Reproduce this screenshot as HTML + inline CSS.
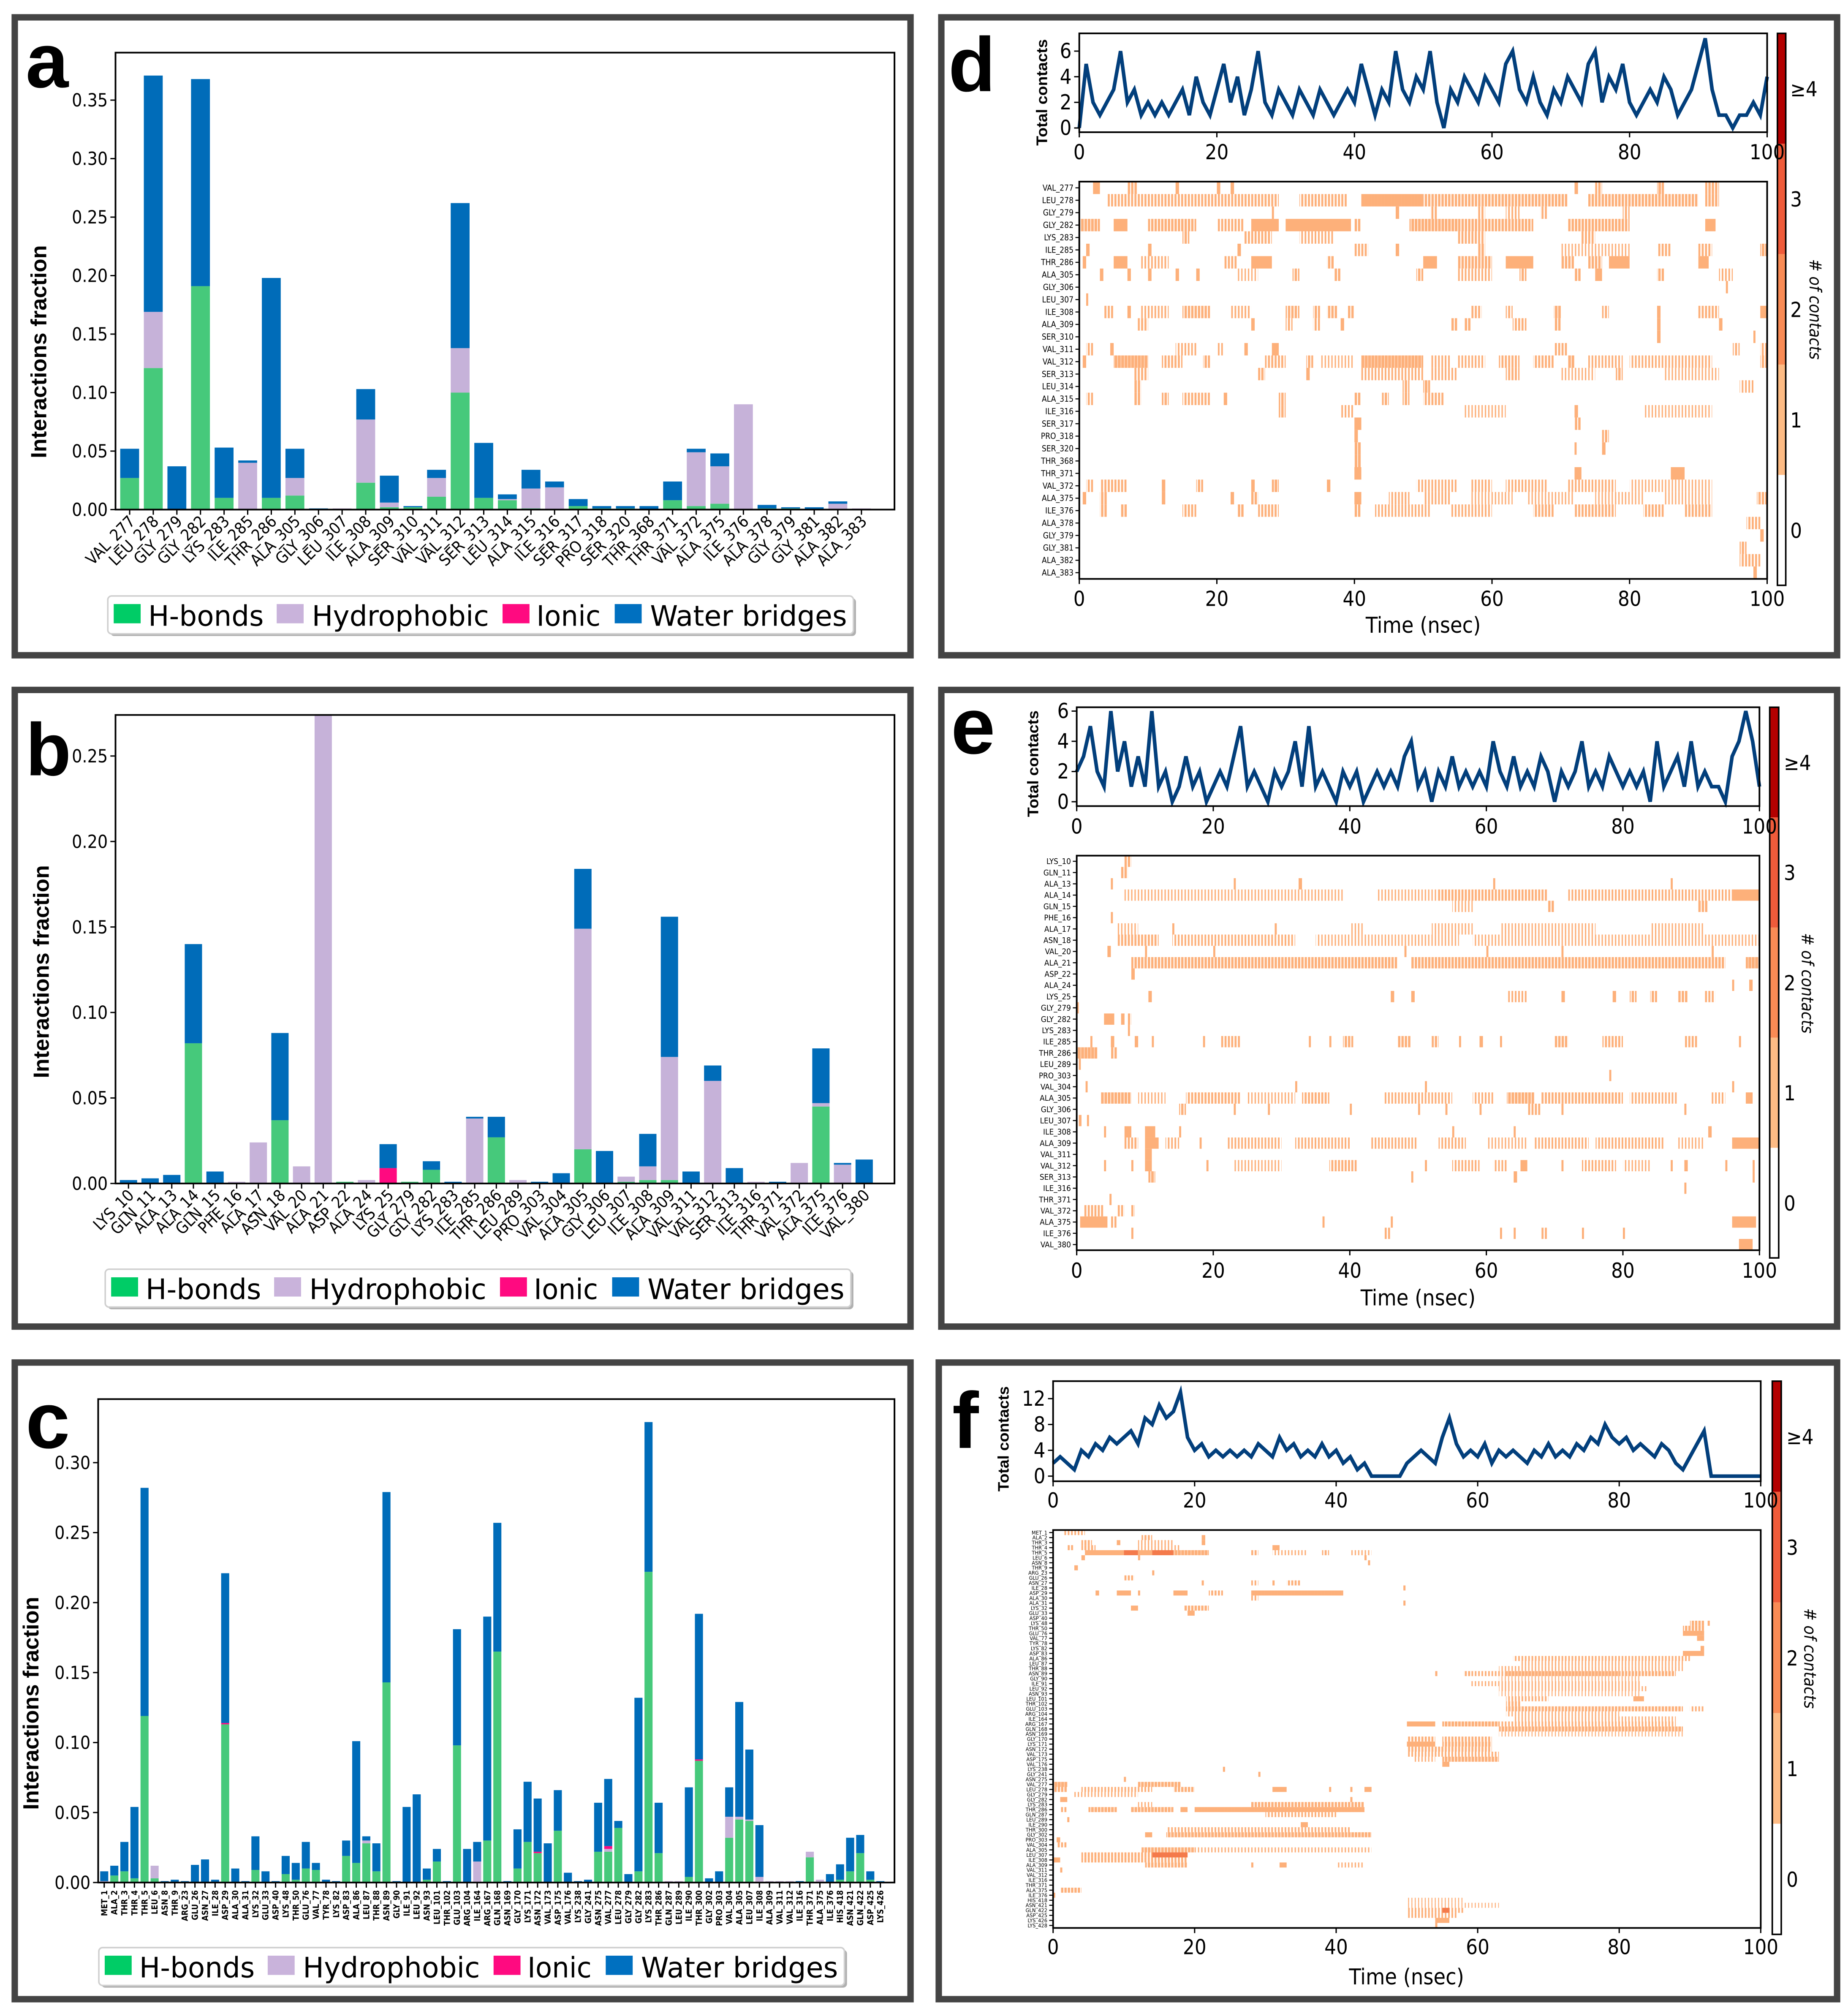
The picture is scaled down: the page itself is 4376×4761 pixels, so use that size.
<!DOCTYPE html>
<html><head><meta charset="utf-8">
<style>
html,body{margin:0;padding:0;background:#fff;}
svg{display:block;}
text{font-family:"DejaVu Sans Condensed","DejaVu Sans","Liberation Sans",sans-serif;fill:#000;}
.bold{font-family:"Liberation Sans",Arial,sans-serif;font-weight:bold;}
</style></head>
<body>
<svg id="fig" xmlns="http://www.w3.org/2000/svg" width="4376" height="4761" viewBox="0 0 1440 1566.7" preserveAspectRatio="none">
<defs id="defs"></defs>
<rect x="0" y="0" width="1440" height="1566.7" fill="#fff"/>
<rect x="11.5" y="13.5" width="698" height="497" fill="none" stroke="#444" stroke-width="5"/>
<rect x="733.5" y="13.5" width="698" height="497" fill="none" stroke="#444" stroke-width="5"/>
<rect x="11.5" y="537.5" width="698" height="496" fill="none" stroke="#444" stroke-width="5"/>
<rect x="733.5" y="537.5" width="698" height="496" fill="none" stroke="#444" stroke-width="5"/>
<rect x="11.5" y="1061.5" width="698" height="496" fill="none" stroke="#444" stroke-width="5"/>
<rect x="731.5" y="1061.5" width="700" height="496" fill="none" stroke="#444" stroke-width="5"/>

<text class="bold" x="20" y="68" font-size="60" font-weight="900">a</text>
<text class="bold" x="20" y="604" font-size="58" font-weight="900">b</text>
<text class="bold" x="20" y="1128" font-size="62" font-weight="900">c</text>
<text class="bold" x="739" y="71" font-size="60" font-weight="900">d</text>
<text class="bold" x="741" y="587" font-size="62" font-weight="900">e</text>
<text class="bold" x="742" y="1128" font-size="62" font-weight="900">f</text>

<text class="bold" transform="translate(36,274) rotate(-90)" text-anchor="middle" font-size="17" textLength="166" lengthAdjust="spacingAndGlyphs">Interactions fraction</text>
<text class="bold" transform="translate(38,757) rotate(-90)" text-anchor="middle" font-size="17" textLength="166" lengthAdjust="spacingAndGlyphs">Interactions fraction</text>
<text class="bold" transform="translate(30,1327) rotate(-90)" text-anchor="middle" font-size="17" textLength="166" lengthAdjust="spacingAndGlyphs">Interactions fraction</text>

<text class="bold" transform="translate(816,72) rotate(-90)" text-anchor="middle" font-size="12" textLength="83" lengthAdjust="spacingAndGlyphs">Total contacts</text>
<text class="bold" transform="translate(809,595) rotate(-90)" text-anchor="middle" font-size="12" textLength="83" lengthAdjust="spacingAndGlyphs">Total contacts</text>
<text class="bold" transform="translate(786,1121) rotate(-90)" text-anchor="middle" font-size="12" textLength="82" lengthAdjust="spacingAndGlyphs">Total contacts</text>

<text x="1109" y="493" text-anchor="middle" font-size="17">Time (nsec)</text>
<text x="1105" y="1017" text-anchor="middle" font-size="17">Time (nsec)</text>
<text x="1096" y="1546" text-anchor="middle" font-size="17">Time (nsec)</text>

<g id="cbd"></g>
<g id="cbe"></g>
<g id="cbf"></g>
<text transform="translate(1410,241) rotate(90)" text-anchor="middle" font-size="13" font-style="italic"># of contacts</text>
<text transform="translate(1404,766) rotate(90)" text-anchor="middle" font-size="13" font-style="italic"># of contacts</text>
<text transform="translate(1406,1292) rotate(90)" text-anchor="middle" font-size="13" font-style="italic"># of contacts</text>

<g id="pa"></g>
<g id="pb"></g>
<g id="pc"></g>
<g id="pd"></g>
<g id="pe"></g>
<g id="pf"></g>
<g id="legs"></g>
</svg>

<script>
// ---------- Panel a data ----------
const aCats = ["VAL_277","LEU_278","GLY_279","GLY_282","LYS_283","ILE_285","THR_286","ALA_305","GLY_306","LEU_307","ILE_308","ALA_309","SER_310","VAL_311","VAL_312","SER_313","LEU_314","ALA_315","ILE_316","SER_317","PRO_318","SER_320","THR_368","THR_371","VAL_372","ALA_375","ILE_376","ALA_378","GLY_379","GLY_381","ALA_382","ALA_383"];
const aHbond = [.027,.121,0,.191,.010,0,.010,.012,0,0,.023,.002,.002,.011,.100,.010,.008,.001,0,.003,.001,.001,0,.008,.003,.005,0,.001,.001,0,0,0];
const aHydro = [0,.048,0,0,0,.040,0,.015,0,.001,.054,.004,0,.016,.038,0,.001,.017,.019,0,0,0,0,0,.046,.032,.090,0,0,0,.005,.001];
const aIonic = [0,0,0,0,0,0,0,0,0,0,0,0,0,0,0,0,0,0,0,0,0,0,0,0,0,0,0,0,0,0,0,0];
const aWater = [.025,.202,.037,.177,.043,.002,.188,.025,.001,0,.026,.023,.001,.007,.124,.047,.004,.016,.005,.006,.002,.002,.003,.016,.003,.011,0,.003,.001,.002,.002,0];
const aTicks = [0,0.05,0.10,0.15,0.20,0.25,0.30,0.35];

// ---------- Panel b data ----------
const bCats = ["LYS_10","GLN_11","ALA_13","ALA_14","GLN_15","PHE_16","ALA_17","ASN_18","VAL_20","ALA_21","ASP_22","ALA_24","LYS_25","GLY_279","GLY_282","LYS_283","ILE_285","THR_286","LEU_289","PRO_303","VAL_304","ALA_305","GLY_306","LEU_307","ILE_308","ALA_309","VAL_311","VAL_312","SER_313","ILE_316","THR_371","VAL_372","ALA_375","ILE_376","VAL_380"];
const bHbond = [0,0,0,.082,0,0,0,.037,0,0,.001,0,0,.001,.008,0,0,.027,0,0,0,.020,0,.001,.002,.002,0,0,0,0,0,0,.045,0,0];
const bHydro = [0,0,0,0,0,.001,.024,0,.010,.280,0,.002,0,0,0,0,.038,0,.002,0,0,.129,0,.003,.008,.072,0,.060,0,.001,0,.012,.002,.011,0];
const bIonic = [0,0,0,0,0,0,0,0,0,0,0,0,.009,0,0,0,0,0,0,0,0,0,0,0,0,0,0,0,0,0,0,0,0,0,0];
const bWater = [.002,.003,.005,.058,.007,0,0,.051,0,0,0,0,.014,0,.005,.001,.001,.012,0,.001,.006,.035,.019,0,.019,.082,.007,.009,.009,0,.001,0,.032,.001,.014];
const bTicks = [0,0.05,0.10,0.15,0.20,0.25];

// ---------- Panel c data ----------
const cCats = ["MET_1","ALA_2","THR_3","THR_4","THR_5","LEU_6","ASN_8","THR_9","ARG_23","GLU_26","ASN_27","ILE_28","ASP_29","ALA_30","ALA_31","LYS_32","GLU_33","ASP_40","LYS_48","THR_50","GLU_76","VAL_77","TYR_78","LYS_82","ASP_83","ALA_86","LEU_87","THR_88","ASN_89","GLY_90","ILE_91","LEU_92","ASN_93","LEU_101","THR_102","GLU_103","ARG_104","ILE_164","ARG_167","GLN_168","ASN_169","GLY_170","LYS_171","ASN_172","VAL_173","ASP_175","VAL_176","LYS_238","GLY_241","ASN_275","VAL_277","LEU_278","GLY_279","GLY_282","LYS_283","THR_286","GLN_287","LEU_289","ILE_290","THR_300","GLY_302","PRO_303","VAL_304","ALA_305","LEU_307","ILE_308","ALA_309","VAL_311","VAL_312","ILE_316","THR_371","ALA_375","ILE_376","HIS_418","ASN_421","GLN_422","ASP_425","LYS_426"];
const cHbond = [0,.005,.008,.003,.119,.003,0,0,0,0,0,0,.113,0,0,.009,0,0,.006,.002,.010,.009,0,0,.019,.014,.028,.008,.143,0,0,0,.002,.015,0,.098,0,0,.030,.165,0,.010,.029,.021,0,.037,0,0,0,.022,.022,.039,0,.008,.222,.021,0,0,.004,.087,0,0,.032,.045,.044,0,0,0,0,0,.018,0,0,.002,.008,.021,.002,0];
const cHydro = [.001,0,0,0,0,.009,0,0,0,0,0,0,0,0,0,0,0,0,0,0,0,0,0,0,0,0,.002,0,0,0,0,0,0,0,0,0,0,.015,0,0,0,0,0,0,0,0,0,0,0,0,.002,0,0,0,0,0,.001,.001,0,0,0,0,.015,.002,.001,.004,.001,.001,.001,0,.004,.002,0,0,0,0,0,0];
const cIonic = [0,0,0,0,0,0,0,0,0,0,0,0,.001,0,0,0,0,0,0,0,0,0,0,0,0,0,0,0,0,0,0,0,0,0,0,0,0,0,0,0,0,0,0,.001,0,0,0,0,0,0,.002,0,0,0,0,0,0,0,0,.001,0,0,0,0,0,0,0,0,0,0,0,0,0,0,0,0,0,0];
const cWater = [.007,.007,.021,.051,.163,0,.001,.002,.001,.0126,.0165,.002,.107,.010,.001,.024,.008,.001,.013,.012,.019,.005,.002,.001,.011,.087,.003,.020,.136,.001,.054,.063,.008,.009,.001,.083,.024,.014,.160,.092,.001,.028,.043,.038,.028,.029,.007,.001,.002,.035,.048,.005,.006,.124,.107,.036,0,0,.064,.104,.003,.008,.021,.082,.050,.037,0,0,0,.001,0,0,.006,.011,.024,.013,.006,.001];
const cTicks = [0,0.05,0.10,0.15,0.20,0.25,0.30];

// ---------- Panel d data ----------
const dContacts = [0,5,2,1,2,3,6,2,3,1,2,1,2,1,2,3,1,4,2,1,3,5,2,4,1,3,6,2,1,3,2,1,3,2,1,3,2,1,2,3,2,5,3,1,3,2,6,3,2,4,3,6,2,0,3,2,4,3,2,4,3,2,5,6,3,2,4,2,1,3,2,4,3,2,5,6,2,4,3,5,2,1,2,3,2,4,3,1,2,3,5,7,3,1,1,0,1,1,2,1,4];
const dRows = ["VAL_277","LEU_278","GLY_279","GLY_282","LYS_283","ILE_285","THR_286","ALA_305","GLY_306","LEU_307","ILE_308","ALA_309","SER_310","VAL_311","VAL_312","SER_313","LEU_314","ALA_315","ILE_316","SER_317","PRO_318","SER_320","THR_368","THR_371","VAL_372","ALA_375","ILE_376","ALA_378","GLY_379","GLY_381","ALA_382","ALA_383"];
const dSegs = [
 [[2,3,1],[7,8.5,.6],[14,14.5,1],[20,20.5,1],[22,22.5,1],[72,72.5,1],[75,76,.6],[84,85,.7],[91,93,.6]],
 [[4,29,.5],[32,39,.5],[41,50,.85],[50,71,.6],[74,90,.6],[91,93,.6]],
 [[28,28.3,1],[46,46.5,1],[51,52,.5],[58,59,.5],[62,64,.4],[67,68,.5],[79,80,.5]],
 [[0,3,.7],[5,7,1],[10,17,.6],[20,24,.5],[25,29,1],[30,39.5,1],[40,41,.6],[48,55,.7],[55,62,.6],[62,66,.6],[71,80,.6],[91,92.5,1]],
 [[15,16,.6],[24,28,.5],[32,37,.4],[55,59,.5],[73,75,.5]],
 [[1,1.5,1],[10,10.5,1],[23,23.5,1],[40,42,.5],[46,46.5,1],[58,59,.6],[70,80,.3],[84,86,.5],[90,92,.5],[99,100,.7]],
 [[0.5,1,1],[5,7,1],[9,13,.4],[21,23,.5],[25,28,1],[36,37,.6],[50,52,1],[55,60,.6],[62,66,1],[70,72,.6],[74,76,.6],[77,80,1],[90,91.5,1]],
 [[3,3.5,1],[7,7.5,1],[10,10.5,1],[14,14.5,1],[17,17.5,1],[23,26,.3],[31,32,.6],[37,38,.6],[49,50,.6],[55,60,.4],[64,65,.6],[72,73,.6],[75,76,1],[84,85,.6],[93,95,.4]],
 [[94,94.3,1]],
 [[1,1.3,1]],
 [[3.5,5,.5],[7,7.5,1],[9,13,.4],[15,19,.6],[22,25,.4],[30,32,.6],[34,35,.6],[36,37.5,.6],[39,40,.6],[57,58.5,.5],[62,63,.5],[69,70,.7],[76,77,.5],[84,84.5,1],[90,93,.5],[99,100,1]],
 [[8.5,10,.5],[25,25.5,1],[30,31,.5],[34,35,.5],[38,38.5,1],[54,55,.6],[56,57,.6],[63,65,.5],[69,70,.6],[84,84.5,1],[93,93.5,1]],
 [[84,84.5,1],[98,98.3,1]],
 [[1,2,.5],[4.5,5,1],[14,17,.4],[20,21,.4],[24,24.5,1],[28,29,1],[69,71,.5],[95,96,.5],[99,100,.5]],
 [[0.5,1,1],[5,10,.8],[12,15,.5],[18,19,.6],[27,30,.5],[33,34,.6],[35,40,.3],[41,50,.8],[51,54,.4],[55,59,.4],[61,64,.5],[66,69,.5],[71,72,.7],[74,79,.4],[80,92,.4],[99,100,.6]],
 [[8,10,.5],[26,27,.6],[33,33.5,1],[41,46,.4],[46,50,.4],[51,55,.4],[62,64,.5],[70,75,.3],[78,79,.6],[85,93,.3]],
 [[8,9,.6],[47,48,.6],[50,51,.7],[96,98,.4]],
 [[1,2,.5],[8,9,.6],[12,13,.6],[15,19,.5],[21,21.5,1],[29,30,.6],[40,41,.6],[44,45,.6],[47,48,.6],[50,53,.5]],
 [[29,30,.6],[38,40,.4],[56,62,.3],[72,72.5,1],[82,92,.3]],
 [[40,41,1],[72,73,.6]],
 [[40,40.5,1],[76,77,.6]],
 [[40,41,.7],[72,72.3,1],[76,76.5,1]],
 [[40,41,.7]],
 [[40,41,1],[72,73,1],[86,88,1]],
 [[1,2,.5],[3,7,.5],[12,12.5,1],[17,18,.6],[25,25.5,1],[28,29,.7],[36,36.5,1],[49,55,.4],[57,60,.4],[62,68,.4],[71,78,.4],[80,92,.3]],
 [[0.5,1,1],[3,4,.6],[12,12.5,1],[22,22.5,1],[25,26,.6],[40,41,1],[45,48,.4],[50,54,.4],[57,63,.3],[65,72,.3],[75,82,.3],[85,92,.3],[98.5,100,.6]],
 [[3,4,.6],[6,7,.6],[15,17,.5],[23,24,.6],[26,29,.5],[40,41,.6],[43,51,.4],[54,60,.4],[66,69,.5],[72,78,.5],[82,85,.5],[88,92,.5]],
 [[97,99,.5]],
 [[99,99.5,1]],
 [[96,97,.6]],
 [[96,99,.5]],
 [[98,98.5,1]]
];

// ---------- Panel e data ----------
const eContacts = [2,3,5,2,1,6,2,4,1,3,1,6,1,2,0,1,3,1,2,0,1,2,1,3,5,1,2,1,0,2,1,2,4,1,5,1,2,1,0,2,1,2,0,1,2,1,2,1,3,4,1,2,0,2,1,3,1,2,1,2,1,4,2,1,3,1,2,1,3,2,0,2,1,2,4,1,2,1,3,2,1,2,1,2,0,4,1,2,3,1,4,1,2,1,1,0,3,4,6,4,1];
const eRows = ["LYS_10","GLN_11","ALA_13","ALA_14","GLN_15","PHE_16","ALA_17","ASN_18","VAL_20","ALA_21","ASP_22","ALA_24","LYS_25","GLY_279","GLY_282","LYS_283","ILE_285","THR_286","LEU_289","PRO_303","VAL_304","ALA_305","GLY_306","LEU_307","ILE_308","ALA_309","VAL_311","VAL_312","SER_313","ILE_316","THR_371","VAL_372","ALA_375","ILE_376","VAL_380"];
const eSegs = [
 [[7,8,.6]],
 [[6.5,7.5,.6]],
 [[5,5.3,1],[23,23.3,1],[32.5,33,1],[61,61.3,1],[87,87.3,1]],
 [[7,39,.3],[44,53,.3],[53,69,.5],[72,96,.4],[96,100,1]],
 [[55,58,.3],[69,70,.6],[91,92.5,.6]],
 [[5,5.3,1]],
 [[6,9,.3],[14,14.3,1],[29,29.3,1],[40,42,.3],[52,58,.3],[62,76,.3],[84,92,.3]],
 [[6,12,.5],[14,32,.4],[35,56,.3],[58,100,.3]],
 [[4.5,5,1],[10,10.3,1],[20,20.3,1],[48,48.3,1],[60,60.3,1],[71,71.3,1],[93,93.3,1]],
 [[8,47,.55],[49,95,.55],[98,100,.8]],
 [[8,8.5,1]],
 [[96,96.3,1],[98.5,99,1]],
 [[10.5,11,1],[46,46.5,1],[49,49.5,1],[63,66,.4],[71,71.5,1],[78.5,79,1],[81,82,.6],[84,85,.6],[88,89.5,.6],[92,93.5,.5]],
 [[0,0.3,1]],
 [[4,5.5,1],[6.5,7,1],[7.5,8,.6]],
 [[7.5,7.8,1]],
 [[2,2.3,1],[5,5.5,1],[8.5,9,1],[11,11.3,1],[18.5,18.8,1],[21,24,.5],[34,34.3,1],[37,37.3,1],[39,40.5,.6],[47,49,.6],[52,53,.6],[56,56.3,1],[59,59.5,1],[62,62.3,1],[70,72,.6],[77,80,.5],[89,91,.5],[97,97.3,1]],
 [[0,3,.8],[5,6,.6]],
 [[0.3,0.6,1]],
 [[78,78.3,1]],
 [[1.3,1.6,1],[32,32.3,1],[51,51.3,1],[96,96.3,1]],
 [[3.5,8,.7],[9,13,.3],[16,24,.5],[25,32,.3],[33,37,.5],[45,55,.4],[58,61,.4],[63,67,.7],[68,80,.5],[81,88,.4],[93,95,.4],[98,99,1]],
 [[15,16,.6],[23,23.3,1],[28,28.3,1],[40,40.3,1],[50,50.3,1],[54,54.3,1],[59,59.3,1],[66,68,.5],[71,71.3,1],[89,89.3,1]],
 [[0.3,0.7,1],[1.5,1.8,1]],
 [[4,4.3,1],[7,8,1],[10,11.5,1],[15,15.3,1],[55,55.3,1],[64,64.3,1],[92.5,93,1]],
 [[7,9,.5],[10,12,1],[13,15,.4],[18,18.3,1],[22,30,.4],[32,40,.4],[43,50,.4],[53,57,.4],[60,66,.3],[67,75,.4],[76,86,.4],[88,92,.3],[96,100,1]],
 [[10,11,1]],
 [[4,4.3,1],[8,8.3,1],[10,11,1],[19,19.3,1],[23,30,.3],[37,41,.5],[51,51.3,1],[55,59,.4],[61,63,.4],[65,66,1],[71,71.3,1],[74,79,.4],[80,84,.3],[87,87.3,1],[89,89.5,1],[95,95.3,1],[99,99.3,1]],
 [[10.5,11.5,.7],[49,49.3,1],[64,64.5,1],[99,99.3,1]],
 [[89,89.3,1]],
 [[4.8,5.1,1]],
 [[1,4,.5],[6,7,.5],[8,8.5,.6]],
 [[0.5,4.5,1],[5,6,.5],[36,36.3,1],[46,46.3,1],[96,99.5,1]],
 [[8,8.3,1],[45,46,.5],[62,62.3,1],[64,64.3,1],[68,69,.5],[74,74.3,1],[80,80.3,1]],
 [[97,99,1]]
];

// ---------- Panel f data ----------
const fContacts = [2,3,2,1,4,3,5,4,6,5,6,7,5,9,8,11,9,10,13,6,4,5,3,4,3,4,3,4,3,5,4,3,6,4,5,3,4,3,5,3,4,2,3,1,2,0,0,0,0,0,2,3,4,3,2,6,9,5,3,4,3,5,2,4,3,4,3,2,4,3,5,3,4,3,5,4,6,5,8,6,5,6,4,5,4,3,5,4,2,1,3,5,7,0,0,0,0,0,0,0,0];
const fRows = ["MET_1","ALA_2","THR_3","THR_4","THR_5","LEU_6","ASN_8","THR_9","ARG_23","GLU_26","ASN_27","ILE_28","ASP_29","ALA_30","ALA_31","LYS_32","GLU_33","ASP_40","LYS_48","THR_50","GLU_76","VAL_77","TYR_78","LYS_82","ASP_83","ALA_86","LEU_87","THR_88","ASN_89","GLY_90","ILE_91","LEU_92","ASN_93","LEU_101","THR_102","GLU_103","ARG_104","ILE_164","ARG_167","GLN_168","ASN_169","GLY_170","LYS_171","ASN_172","VAL_173","ASP_175","VAL_176","LYS_238","GLY_241","ASN_275","VAL_277","LEU_278","GLY_279","GLY_282","LYS_283","THR_286","GLN_287","LEU_289","ILE_290","THR_300","GLY_302","PRO_303","VAL_304","ALA_305","LEU_307","ILE_308","ALA_309","VAL_311","VAL_312","ILE_316","THR_371","ALA_375","ILE_376","HIS_418","ASN_421","GLN_422","ASP_425","LYS_426","LYS_428"];
const fSegs = [
 [[1.5,4.5,.4]],
 [[12.5,14,.5],[21,21.5,1]],
 [[4,5.5,.5],[9,9.5,1],[12,17,.3],[21,21.5,1]],
 [[2,3,.5],[4,6,.5],[12,18,.3],[31,32,1]],
 [[4.5,10,1],[10,12,2],[12,14,1],[14,17,2],[17,22,.8],[28,29,.5],[31,36,.3],[38,39,.5],[42,45,.3]],
 [[4,4.5,1],[12,12.3,1],[44,44.3,1]],
 [[44.5,44.8,1]],
 [[3,3.5,1]],
 [[14,14.3,1]],
 [[10,11.5,.5]],
 [[21,21.3,1],[28,29,.4],[31,31.3,1],[33,35,.5]],
 [[49.5,49.8,1]],
 [[6,6.5,1],[9,11,1],[12,12.3,1],[17,19,1],[22,24,.5],[28,41,.9]],
 [[28,29,.4]],
 [[49.5,49.8,1]],
 [[11,12,1],[18.5,22,.6]],
 [[19,20,1]],
 [],
 [[90,92,.6],[92.5,92.8,1]],
 [[89,92,.6]],
 [[89,92,1]],
 [[91,92,1]],
 [],
 [[91.5,92,1]],
 [[89,92,1]],
 [[65,90,.4]],
 [[66,89,.3]],
 [[63,89,.3]],
 [[54,54.3,1],[58,59,.5],[59,64,.4],[64,80,.8],[80,88,.6]],
 [[63,83,.2]],
 [[59,83,.3]],
 [[63,84,.3]],
 [[63,83,.2]],
 [[64,70,.4],[82,83.5,1]],
 [[64,66,.5]],
 [[64,89,.6],[90,92,.4]],
 [[64,80,.3]],
 [[65,88,.3]],
 [[50,54,1],[55,63,.7],[63,88,.4]],
 [[63,89,.7]],
 [[63,89,.2]],
 [[50,54,.5],[55,62,.5]],
 [[50,54,1],[55,62,.6]],
 [[50,62,.5]],
 [[50,63,.4]],
 [[51,54,.3],[55,63,.7]],
 [[55,56,1]],
 [[24,24.3,1]],
 [[29,29.3,1]],
 [[10,10.3,1]],
 [[0,2,.8],[12,18,.7]],
 [[0,2,.6],[4,14,.4],[17,20,.6],[31,33,1],[39,39.3,1],[42,42.3,1],[44,45,1]],
 [[3,12,.3]],
 [[1,2,1],[42,42.3,1]],
 [[12,14,.3],[28,44,.6]],
 [[1,2,.5],[5,9,.7],[11,17,.7],[18,19,1],[20,44,.9]],
 [[30,40,.4]],
 [[2,2.3,1]],
 [[35,36,1]],
 [[16,42,.4]],
 [[13,14,1],[16,45,.7]],
 [[0.5,1,1]],
 [[0.5,2,.5]],
 [[12.5,20,.7],[20,45,.3]],
 [[4,14,.5],[14,19,2]],
 [[0,1,1],[4,19,.5]],
 [[13,19,.6],[28,28.3,1],[32,33,1],[40,44,.3]],
 [[1,1.3,1]],
 [],
 [],
 [],
 [[1,4,.6]],
 [[0,0.3,1]],
 [[50,58,.2]],
 [[50,63,.2]],
 [[50,58,.4],[55,56,2]],
 [[50,57,.4]],
 [[54,56,1]],
 [[54,54.3,1]]
];

const timeTicks = [0,20,40,60,80,100];
const cbLabels = ["0","1","2","3","\u22654"];

// ---------- helpers ----------
const NS = "http://www.w3.org/2000/svg";
function mk(parent, tag, attrs, txt){
  const e = document.createElementNS(NS, tag);
  for (const k in attrs) e.setAttribute(k, attrs[k]);
  if (txt !== undefined) e.textContent = txt;
  parent.appendChild(e);
  return e;
}
const COL = {h:"#46c97b", y:"#c6b2d9", i:"#ff0a80", w:"#006cb9"};
const HEAT1 = "#fdb07a";

// stripe patterns for partial-density contact segments
(function(){
  const defs = document.getElementById("defs");
  for (let k=1;k<=9;k++){
    const p = mk(defs, "pattern", {id:"stripe"+k, patternUnits:"userSpaceOnUse", width:2.6, height:10});
    mk(p, "rect", {x:0, y:0, width:2.6*k/10+0.25, height:10, fill:HEAT1});
  }
})();

function barChart(gid, L, T, R, B, ymax, cats, hb, hy, io, wa, ticks, mode, tickFont){
  const g = document.getElementById(gid);
  const W = R - L, n = cats.length, slot = W/(n+1), bw = slot*0.8;
  const Y = v => B - v/ymax*(B-T);
  const X = i => L + (i+0.6)*slot;
  const cp = mk(g, "clipPath", {id: gid+"clip"});
  mk(cp, "rect", {x:L, y:T, width:W, height:B-T});
  const bars = mk(g, "g", {"clip-path":"url(#"+gid+"clip)"});
  
  
  const layers = [[hb,COL.h,"hbond"],[hy,COL.y,"hydrophobic"],[io,COL.i,"ionic"],[wa,COL.w,"water-bridge"]];
  for (let i=0;i<n;i++){
    let base = 0;
    for (const [arr,col,nm] of layers){
      const v = arr[i];
      if (v > 0){
        const r = mk(bars, "rect", {x:X(i)-bw/2, y:Y(base+v), width:bw, height:Y(base)-Y(base+v), fill:col});
        
        
        base += v;
      }
    }
  }
  const fr = mk(g, "rect", {x:L, y:T, width:W, height:B-T, fill:"none", stroke:"#000", "stroke-width":1.3});
  
  
  for (const t of ticks){
    const y = Y(t);
    const tk = mk(g, "line", {x1:L-4, x2:L, y1:y, y2:y, stroke:"#000", "stroke-width":1});
    
    
    const tl = mk(g, "text", {x:L-6, y:y+5, "text-anchor":"end", "font-size":tickFont}, t.toFixed(2));
    
    
  }
  for (let i=0;i<n;i++){
    const x = X(i);
    const tk = mk(g, "line", {x1:x, x2:x, y1:B, y2:B+4, stroke:"#000", "stroke-width":1});
    
    
    let tl;
    if (mode === "diag"){
      tl = mk(g, "text", {transform:"translate("+(x+5)+","+(B+10)+") rotate(-45)", "text-anchor":"end", "font-size":12.5}, cats[i]);
    } else {
      tl = mk(g, "text", {transform:"translate("+(x+2.3)+","+(B+6)+") rotate(-90)", "text-anchor":"end", "font-size":6.3, "font-family":"Liberation Sans, Arial, sans-serif", "font-weight":"bold"}, cats[i]);
    }
    
    
  }
}

function timeline(gid, L, R, T, B, y0, perUnit, vals, yticks, labY){
  const g = document.getElementById(gid);
  const X = t => L + t/100*(R-L);
  const Y = v => y0 - v*perUnit;
  let d = "";
  for (let i=0;i<vals.length;i++){
    const t = i*100/(vals.length-1);
    d += (i ? "L" : "M") + X(t).toFixed(2) + "," + Y(vals[i]).toFixed(2);
  }
  const ln = mk(g, "path", {d:d, fill:"none", stroke:"#023f7c", "stroke-width":2.8, "stroke-linejoin":"miter"});
  
  
  const fr = mk(g, "rect", {x:L, y:T, width:R-L, height:B-T, fill:"none", stroke:"#000", "stroke-width":1.3});
  
  
  for (const v of yticks){
    const tk = mk(g, "line", {x1:L-4, x2:L, y1:Y(v), y2:Y(v), stroke:"#000"});
    
    
    const tl = mk(g, "text", {x:L-6, y:Y(v)+5.5, "text-anchor":"end", "font-size":16}, String(v));
    
    
  }
  xAxis(g, L, R, B, labY);
}

function xAxis(g, L, R, B, labY){
  for (const t of timeTicks){
    const x = L + t/100*(R-L);
    const tk = mk(g, "line", {x1:x, x2:x, y1:B, y2:B+4, stroke:"#000"});
    
    
    const tl = mk(g, "text", {x:x, y:labY, "text-anchor":"middle", "font-size":16}, String(t));
    
    
  }
}

function heatmap(gid, L, R, T, B, rows, segs, labFont, labY){
  const g = document.getElementById(gid);
  const X = t => L + t/100*(R-L);
  const rh = (B-T)/rows.length;
  for (let r=0;r<rows.length;r++){
    const yc = T + (r+0.5)*rh;
    for (const s of segs[r]){
      let fill;
      if (s[2] > 1) fill = "#f47a4b";
      else if (s[2] >= 0.95) fill = HEAT1;
      else fill = "url(#stripe" + Math.max(1, Math.min(9, Math.round(s[2]*10))) + ")";
      const rc = mk(g, "rect", {x:X(s[0]), y:yc-rh/2, width:Math.max(X(s[1])-X(s[0]),0.6), height:rh, fill:fill});
      
      
    }
    const tk = mk(g, "line", {x1:L-3, x2:L, y1:yc, y2:yc, stroke:"#000", "stroke-width":0.8});
    
    
    const tl = mk(g, "text", {x:L-4.5, y:yc+labFont*0.35, "text-anchor":"end", "font-size":labFont}, rows[r]);
    
    
  }
  const fr = mk(g, "rect", {x:L, y:T, width:R-L, height:B-T, fill:"none", stroke:"#000", "stroke-width":1.3});
  
  
  xAxis(g, L, R, B, labY);
}

function colorbar(gid, x, w, T, B, labX){
  const g = document.getElementById(gid);
  const cols = ["#ffffff","#fdbb84","#f98b55","#ef5b3a","#b30000"];
  const sh = (B-T)/5;
  for (let k=0;k<5;k++){
    const y = B - (k+1)*sh;
    const r = mk(g, "rect", {x:x, y:y, width:w, height:sh, fill:cols[k]});
    
    
    const tl = mk(g, "text", {x:labX, y:y+sh/2+6, "font-size":16}, cbLabels[k]);
    
    
  }
  const fr = mk(g, "rect", {x:x, y:T, width:w, height:B-T, fill:"none", stroke:"#000", "stroke-width":1.2});
  
  
}

function legend(dx, dy, name){
  const g = document.getElementById("legs");
  const lg = mk(g, "g", {transform:"translate("+dx+","+dy+")"});
  
  
  mk(lg, "rect", {x:86, y:466, width:581, height:29.5, rx:3, fill:"#b0b0b0"});
  const box = mk(lg, "rect", {x:84, y:464.3, width:581, height:29.5, rx:3, fill:"#fff", stroke:"#d0d0d0", "stroke-width":1.2});
  
  
  const items = [["H-bonds","#00cc66",88.6,115.5,90],["Hydrophobic","#c9b3db",215.6,243,138],["Ionic","#ff0a80",391.6,418,50],["Water bridges","#0070c0",479,506.5,153.5]];
  for (const it of items){
    const p = mk(lg, "rect", {x:it[2], y:470.6, width:21, height:15, fill:it[1]});
    
    
    const t = mk(lg, "text", {x:it[3], y:487.5, "font-size":22, textLength:it[4], lengthAdjust:"spacingAndGlyphs"}, it[0]);
    
    
  }
}

// ---------- draw ----------
barChart("pa", 90, 41, 697, 397, 0.3906, aCats, aHbond, aHydro, aIonic, aWater, aTicks, "diag", 14);
barChart("pb", 90, 557, 697, 922, 0.274, bCats, bHbond, bHydro, bIonic, bWater, bTicks, "diag", 14);
barChart("pc", 76.5, 1090, 697, 1466.6, 0.3454, cCats, cHbond, cHydro, cIonic, cWater, cTicks, "vert", 14);

timeline("pd", 841, 1377, 26, 103, 99.7, 9.98, dContacts, [0,2,4,6], 124);
heatmap("pd", 841, 1377, 141.5, 451, dRows, dSegs, 6.3, 472);
timeline("pe", 839, 1371, 551, 628, 624.6, 11.77, eContacts, [0,2,4,6], 649.5);
heatmap("pe", 839, 1371, 666.6, 974, eRows, eSegs, 6.2, 995.5);
timeline("pf", 820.6, 1372, 1076, 1154, 1150, 5.03, fContacts, [0,4,8,12], 1174.5);
heatmap("pf", 820.6, 1372, 1192, 1502, fRows, fSegs, 4.2, 1522.5);

colorbar("cbd", 1385, 6.5, 26, 456, 1395);
colorbar("cbe", 1379, 7, 551, 980, 1390);
colorbar("cbf", 1381, 7, 1076, 1507, 1392);

legend(0, 0, "panel-a-legend");
legend(-2, 524.5, "panel-b-legend");
legend(-7, 1053, "panel-c-legend");
</script>
</body></html>
